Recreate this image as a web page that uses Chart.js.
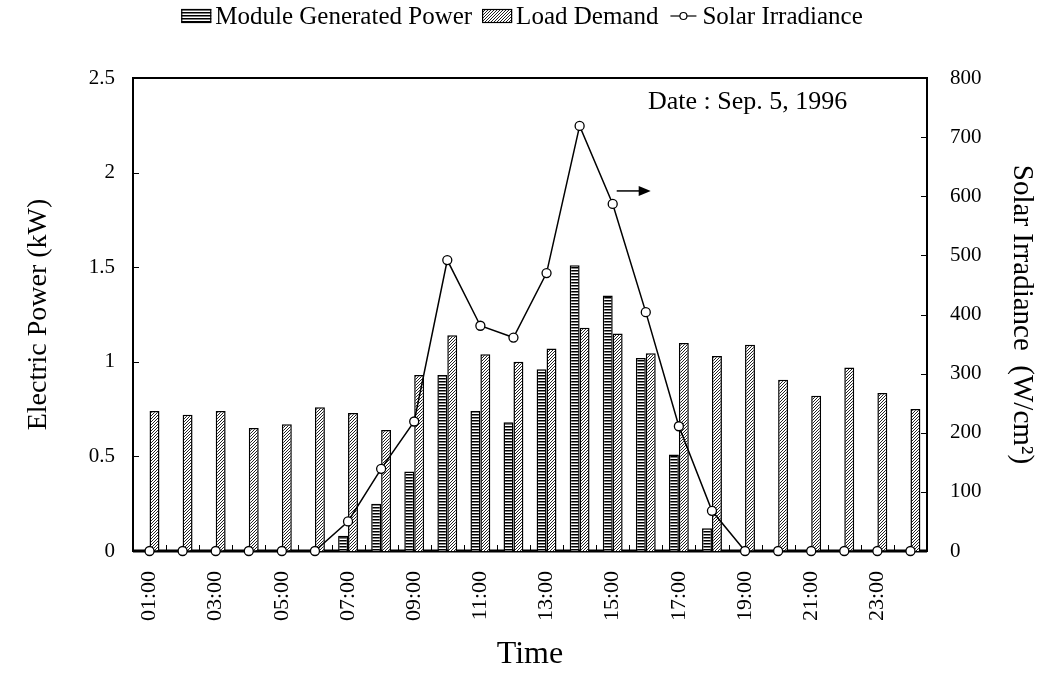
<!DOCTYPE html>
<html>
<head>
<meta charset="utf-8">
<script src="https://cdn.jsdelivr.net/npm/chart.js@4.4.1/dist/chart.umd.min.js"></script>
<style>
    html, body { margin: 0; padding: 0; background: #fff; }
</style>
</head>
<body>
<canvas id="myChart" width="1056" height="674"></canvas>
<script>
const hours = ['01:00', '02:00', '03:00', '04:00', '05:00', '06:00', '07:00', '08:00', '09:00', '10:00', '11:00', '12:00',
    '13:00', '14:00', '15:00', '16:00', '17:00', '18:00', '19:00', '20:00', '21:00', '22:00', '23:00', '24:00'];
const generatedPower = [0, 0, 0, 0, 0, 0, 0.08, 0.25, 0.42, 0.93, 0.74, 0.68, 0.96, 1.51, 1.35, 1.02, 0.51, 0.12, 0, 0, 0, 0, 0, 0];
const loadDemand = [0.74, 0.72, 0.74, 0.65, 0.67, 0.76, 0.73, 0.64, 0.93, 1.14, 1.04, 1.00, 1.07, 1.18, 1.15, 1.045, 1.10, 1.03, 1.09, 0.905, 0.82, 0.97, 0.835, 0.75];
const irradiance = [0, 0, 0, 0, 0, 0, 50, 139, 219, 492, 381, 361, 470, 719, 587, 404, 211, 68, 0, 0, 0, 0, 0, 0];
const powerRange = [0, 2.5, 0.5];
const irradianceRange = [0, 800, 100];

const FONT = '"Liberation Serif", "Times New Roman", serif';
const canvas = document.getElementById('myChart');
const ctx = canvas.getContext('2d');

// fill patterns
function makePattern(w, h, draw) {
    const c = document.createElement('canvas');
    c.width = w; c.height = h;
    const g = c.getContext('2d');
    g.fillStyle = '#fff';
    g.fillRect(0, 0, w, h);
    draw(g);
    return ctx.createPattern(c, 'repeat');
}
const stripes = makePattern(4, 3, g => {
    g.fillStyle = '#000';
    g.fillRect(0, 0, 4, 1.5);
});
const hatch = makePattern(3, 3, g => {
    g.strokeStyle = '#222';
    g.lineWidth = 1;
    g.beginPath();
    g.moveTo(-1, 4); g.lineTo(4, -1);
    g.moveTo(-1, 1); g.lineTo(1, -1);
    g.moveTo(2, 4); g.lineTo(4, 2);
    g.stroke();
});

const decorations = {
    id: 'decorations',
    beforeDatasetsDraw(chart) {
        const { ctx, chartArea: a, scales } = chart;
        ctx.save();
        ctx.strokeStyle = '#000';
        // inner ticks
        ctx.lineWidth = 1;
        ctx.beginPath();
        scales.y.ticks.forEach(t => {
            const y = Math.round(scales.y.getPixelForValue(t.value)) + 0.5;
            ctx.moveTo(a.left, y); ctx.lineTo(a.left + 6, y);
        });
        scales.y1.ticks.forEach(t => {
            const y = Math.round(scales.y1.getPixelForValue(t.value)) + 0.5;
            ctx.moveTo(a.right, y); ctx.lineTo(a.right - 6, y);
        });
        for (let i = 1; i < hours.length; i++) {
            const x = Math.round((scales.x.getPixelForValue(i - 1) + scales.x.getPixelForValue(i)) / 2) + 0.5;
            ctx.moveTo(x, a.bottom); ctx.lineTo(x, a.bottom - 6);
        }
        ctx.stroke();
        // frame
        ctx.lineWidth = 2;
        ctx.strokeRect(a.left, a.top, a.right - a.left, a.bottom - a.top);
        ctx.lineWidth = 3;
        ctx.beginPath();
        ctx.moveTo(a.left, a.bottom); ctx.lineTo(a.right, a.bottom);
        ctx.stroke();
        ctx.restore();
    },
    afterDraw(chart) {
        const { ctx, chartArea: a, scales } = chart;
        ctx.save();
        ctx.fillStyle = '#000';
        ctx.strokeStyle = '#000';
        ctx.textBaseline = 'middle';

        // legend
        ctx.font = '25px ' + FONT;
        const items = [
            { type: 'box', fill: stripes, text: 'Module Generated Power' },
            { type: 'box', fill: hatch, text: 'Load Demand' },
            { type: 'line', text: 'Solar Irradiance' }
        ];
        const symW = 30, gapIn = 4, gapOut = 10;
        let total = 0;
        items.forEach(it => { it.w = ctx.measureText(it.text).width; total += symW + gapIn + it.w; });
        total += gapOut * (items.length - 1);
        let x = 522 - total / 2;
        const ly = 16;
        items.forEach(it => {
            if (it.type === 'box') {
                ctx.fillStyle = it.fill;
                ctx.fillRect(x, ly - 7, symW, 14);
                ctx.lineWidth = 1.2;
                ctx.strokeRect(x + 0.5, ly - 6.5, symW - 1, 13);
            } else {
                ctx.lineWidth = 1.2;
                ctx.beginPath();
                ctx.moveTo(x + 2, ly); ctx.lineTo(x + symW - 2, ly);
                ctx.stroke();
                ctx.beginPath();
                ctx.arc(x + symW / 2, ly, 3.5, 0, Math.PI * 2);
                ctx.fillStyle = '#fff';
                ctx.fill();
                ctx.stroke();
            }
            ctx.fillStyle = '#000';
            ctx.textAlign = 'left';
            ctx.fillText(it.text, x + symW + gapIn, ly + 1);
            x += symW + gapIn + it.w + gapOut;
        });

        // date note
        ctx.font = '26px ' + FONT;
        ctx.textAlign = 'left';
        ctx.fillText('Date : Sep. 5, 1996', a.left + 515, a.top + 24);

        // arrow pointing to the right axis
        const px = scales.x.getPixelForValue(14);
        const py = scales.y1.getPixelForValue(irradiance[14]);
        const ax = px + 4, ay = py - 13;
        ctx.lineWidth = 1.5;
        ctx.beginPath();
        ctx.moveTo(ax, ay); ctx.lineTo(ax + 24, ay);
        ctx.stroke();
        ctx.beginPath();
        ctx.moveTo(ax + 34, ay); ctx.lineTo(ax + 22, ay - 5); ctx.lineTo(ax + 22, ay + 5);
        ctx.closePath();
        ctx.fill();
        ctx.restore();
    }
};

const myChart = new Chart(ctx, {
    type: 'bar',
    data: {
        labels: hours,
        datasets: [{
            type: 'line',
            label: 'Solar Irradiance',
            data: irradiance,
            yAxisID: 'y1',
            borderColor: '#000',
            borderWidth: 1.5,
            pointRadius: 4.5,
            pointBackgroundColor: '#fff',
            pointBorderColor: '#000',
            pointBorderWidth: 1.3,
            tension: 0,
            clip: false,
            order: 0
        }, {
            label: 'Module Generated Power',
            data: generatedPower,
            yAxisID: 'y',
            backgroundColor: stripes,
            borderColor: '#000',
            borderWidth: 1.5,
            borderSkipped: 'bottom',
            categoryPercentage: 0.6,
            barPercentage: 1,
            order: 1
        }, {
            label: 'Load Demand',
            data: loadDemand,
            yAxisID: 'y',
            backgroundColor: hatch,
            borderColor: '#000',
            borderWidth: 1.5,
            borderSkipped: 'bottom',
            categoryPercentage: 0.6,
            barPercentage: 1,
            order: 2
        }]
    },
    options: {
        responsive: false,
        animation: false,
        devicePixelRatio: 1,
        layout: { padding: { top: 78, left: 0, right: 0, bottom: 0 } },
        plugins: {
            legend: { display: false },
            tooltip: { enabled: false }
        },
        scales: {
            x: {
                grid: { display: false },
                border: { display: false },
                ticks: {
                    autoSkip: false,
                    minRotation: 90,
                    maxRotation: 90,
                    padding: 12,
                    color: '#000',
                    font: { family: FONT, size: 22 },
                    callback: (v, i) => (i % 2 === 0 ? hours[i] : '')
                },
                title: {
                    display: true,
                    text: 'Time',
                    color: '#000',
                    font: { family: FONT, size: 32 },
                    padding: { top: 0, bottom: 0 }
                },
                afterFit: s => { s.height = 123; }
            },
            y: {
                position: 'left',
                min: powerRange[0],
                max: powerRange[1],
                grid: { display: false },
                border: { display: false },
                ticks: {
                    stepSize: powerRange[2],
                    padding: 10,
                    color: '#000',
                    font: { family: FONT, size: 21 },
                    callback: v => String(+v.toFixed(1))
                },
                title: {
                    display: true,
                    text: 'Electric Power (kW)',
                    color: '#000',
                    font: { family: FONT, size: 28 },
                    padding: { top: 22, bottom: 0 }
                },
                afterFit: s => { s.width = 133; }
            },
            y1: {
                position: 'right',
                min: irradianceRange[0],
                max: irradianceRange[1],
                grid: { display: false },
                border: { display: false },
                ticks: {
                    stepSize: irradianceRange[2],
                    padding: 15,
                    color: '#000',
                    font: { family: FONT, size: 21 }
                },
                title: {
                    display: true,
                    text: 'Solar Irradiance  (W/cm²)',
                    color: '#000',
                    font: { family: FONT, size: 29 },
                    padding: { top: 17, bottom: 0 }
                },
                afterFit: s => { s.width = 129; }
            }
        }
    },
    plugins: [decorations]
});
</script>
</body>
</html>
